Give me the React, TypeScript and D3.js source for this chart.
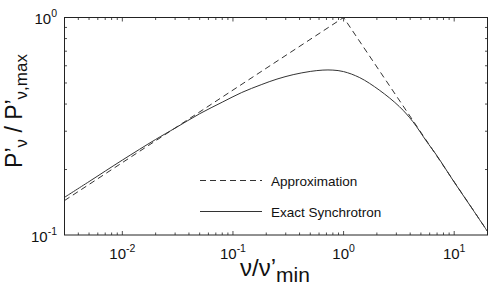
import React from "react";
import * as d3 from "d3";

const approxX = [0.003, 1, 20];
const approxY = [0.144, 1, 0.104];

const exactX = [0.003, 0.005, 0.01, 0.02, 0.03, 0.05, 0.08, 0.12, 0.18, 0.25, 0.35, 0.5, 0.65, 0.8, 1.0, 1.4, 2.1, 3.2, 4.23, 5.58, 7, 10, 14, 20];
const exactY = [0.149, 0.176, 0.221, 0.275, 0.31, 0.361, 0.408, 0.452, 0.491, 0.521, 0.546, 0.565, 0.573, 0.573, 0.564, 0.529, 0.464, 0.389, 0.332, 0.271, 0.231, 0.175, 0.136, 0.1038];

const xTickExps = [-2, -1, 0, 1];
const yTickExps = [-1, 0];
const legendLabels = ["Approximation", "Exact Synchrotron"];

const W = 491;
const H = 292;
const L = 64.5, R = 487.5, T = 17.5, B = 235;
const FONT = "'Liberation Sans', Arial, Helvetica, sans-serif";
const LINE = "#333";

export default function App() {
  const x = d3.scaleLog().domain([0.003, 20]).range([L, R]);
  const y = d3.scaleLog().domain([0.1, 1]).range([B, T]);
  const line = d3
    .line<[number, number]>()
    .x((d) => x(d[0]))
    .y((d) => y(d[1]))
    .curve(d3.curveCatmullRom.alpha(0.5));
  const approxPath = d3.line<[number, number]>().x((d) => x(d[0])).y((d) => y(d[1]))(
    approxX.map((v, i) => [v, approxY[i]] as [number, number])
  );
  const exactPath = line(exactX.map((v, i) => [v, exactY[i]] as [number, number]));

  const xMajor = xTickExps.map((e) => Math.pow(10, e));
  const xMinor: number[] = [];
  for (let e = -3; e <= 1; e++) {
    for (let k = 2; k <= 9; k++) {
      const v = k * Math.pow(10, e);
      if (v >= 0.003 && v <= 20) xMinor.push(v);
    }
  }
  const yMinor: number[] = [];
  for (let k = 2; k <= 9; k++) yMinor.push(k * 0.1);

  const majLen = 4;
  const minLen = 2.5;

  return (
    <svg
      width={W}
      height={H}
      style={{ position: "fixed", left: 0, top: 0, background: "#fff" }}
      fontFamily={FONT}
    >
      <rect x={0} y={0} width={W} height={H} fill="#fff" />
      <defs>
        <clipPath id="plot">
          <rect x={L} y={T} width={R - L} height={B - T} />
        </clipPath>
      </defs>
      <g stroke="#222" strokeWidth={0.8}>
        {xMajor.map((v) => (
          <g key={"xm" + v}>
            <line x1={x(v)} x2={x(v)} y1={B} y2={B - majLen} />
            <line x1={x(v)} x2={x(v)} y1={T} y2={T + majLen} />
          </g>
        ))}
        {xMinor.map((v) => (
          <g key={"xn" + v}>
            <line x1={x(v)} x2={x(v)} y1={B} y2={B - minLen} />
            <line x1={x(v)} x2={x(v)} y1={T} y2={T + minLen} />
          </g>
        ))}
        {yMinor.map((v) => (
          <g key={"yn" + v}>
            <line x1={L} x2={L + minLen} y1={y(v)} y2={y(v)} />
            <line x1={R} x2={R - minLen} y1={y(v)} y2={y(v)} />
          </g>
        ))}
      </g>
      <g clipPath="url(#plot)" fill="none">
        <path d={approxPath || ""} stroke={LINE} strokeWidth={1} strokeDasharray="6,4" />
        <path d={exactPath || ""} stroke={LINE} strokeWidth={1} />
      </g>
      <rect x={L} y={T} width={R - L} height={B - T} fill="none" stroke="#222" strokeWidth={1} />
      {xTickExps.map((e) => (
        <text key={"xl" + e} x={x(Math.pow(10, e))} y={259} textAnchor="middle" fontSize={15} fill="#111">
          <tspan>10</tspan>
          <tspan dy={-7} fontSize={10.5}>{e < 0 ? "-" + Math.abs(e) : String(e)}</tspan>
        </text>
      ))}
      {yTickExps.map((e) => (
        <text key={"yl" + e} x={57} y={y(Math.pow(10, e)) + 6.5} textAnchor="end" fontSize={15} fill="#111">
          <tspan>10</tspan>
          <tspan dy={-7} fontSize={10.5}>{e < 0 ? "-" + Math.abs(e) : String(e)}</tspan>
        </text>
      ))}
      <line x1={200} x2={262} y1={180.5} y2={180.5} stroke={LINE} strokeWidth={1} strokeDasharray="6,4" />
      <text x={271} y={185.5} fontSize={13.5} fill="#111">{legendLabels[0]}</text>
      <line x1={200} x2={262} y1={211.5} y2={211.5} stroke={LINE} strokeWidth={1} />
      <text x={271} y={216.5} fontSize={13.5} fill="#111">{legendLabels[1]}</text>
      <text x={275} y={276} textAnchor="middle" fontSize={24} fill="#111">
        <tspan>ν/ν’</tspan>
        <tspan dy={6} fontSize={21}>min</tspan>
      </text>
      <text transform="translate(22,111) rotate(-90)" textAnchor="middle" fontSize={23} fill="#111">
        <tspan>P’</tspan>
        <tspan dy={5} fontSize={17}>ν</tspan>
        <tspan dy={-5}> / P’</tspan>
        <tspan dy={5} fontSize={17}>ν,max</tspan>
      </text>
    </svg>
  );
}
